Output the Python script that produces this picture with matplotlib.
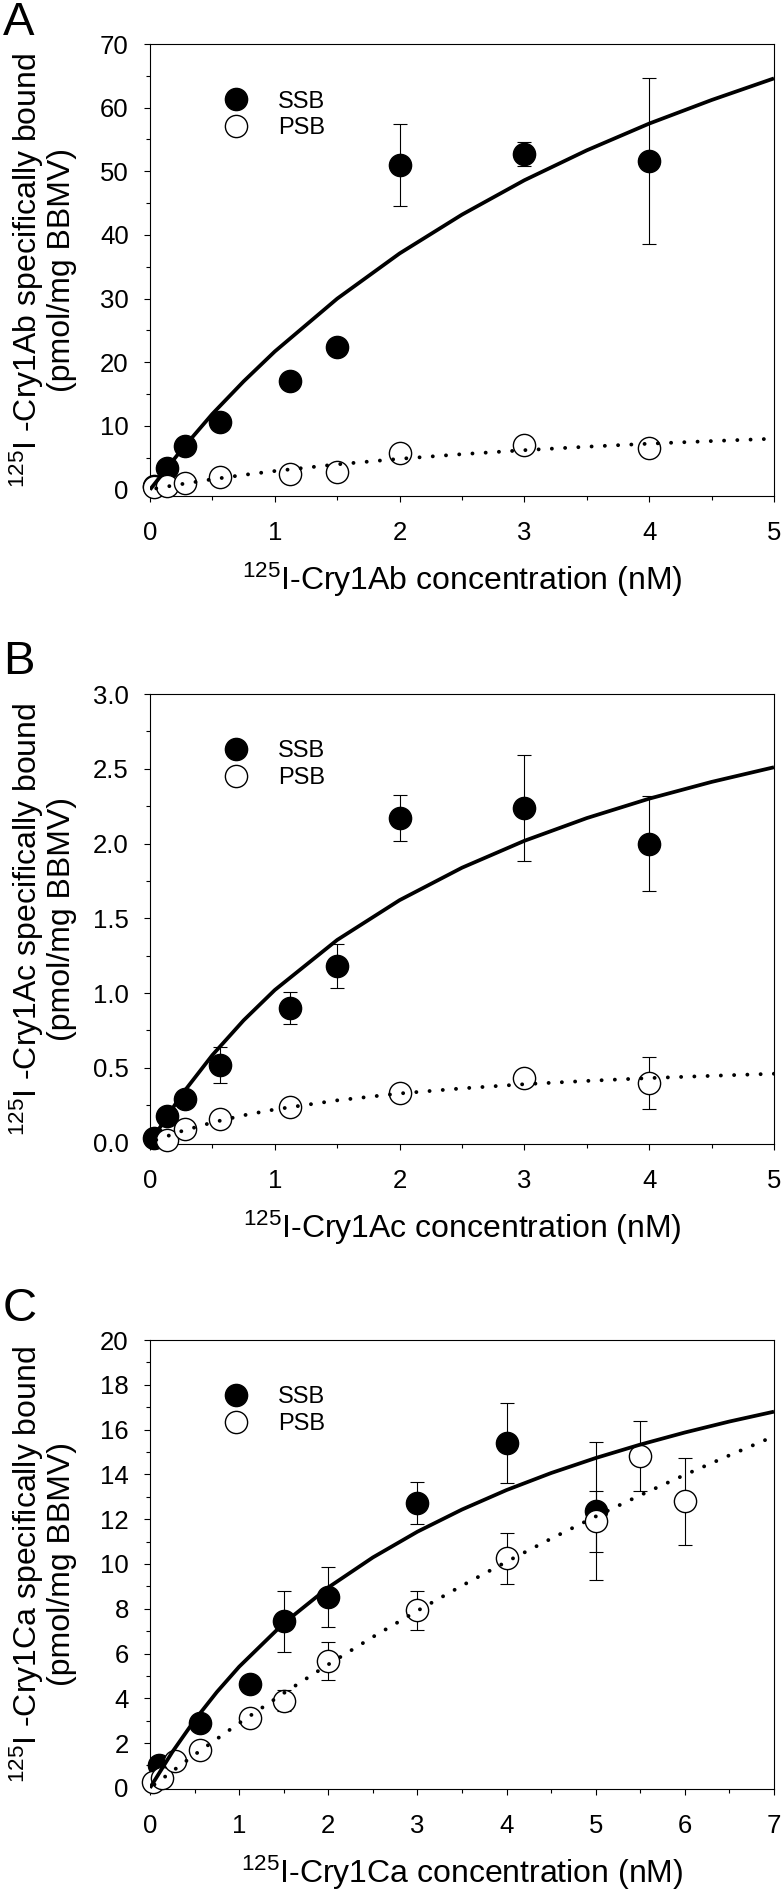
"""
Saturation binding of 125I-labelled Cry1Ab / Cry1Ac / Cry1Ca to BBMV
Three stacked panels (A, B, C): specific binding (SSB) vs. non-saturable
binding (PSB), each with its fitted curve.
"""

import matplotlib
matplotlib.use("Agg")
import matplotlib.pyplot as plt
from matplotlib.lines import Line2D
from matplotlib.ticker import MultipleLocator, FormatStrFormatter

plt.rcParams["font.family"] = ["Liberation Sans", "DejaVu Sans"]
plt.rcParams["mathtext.fontset"] = "custom"
plt.rcParams["mathtext.rm"] = "Liberation Sans"
plt.rcParams["mathtext.it"] = "Liberation Sans:italic"
plt.rcParams["mathtext.bf"] = "Liberation Sans:bold"

# ── Panel A: Cry1Ab ────────────────────────────────────────────────────────────

a_conc       = [0.03, 0.14, 0.28, 0.56, 1.12, 1.5, 2, 3, 4]
a_ssb        = [0.5, 3.4, 6.9, 10.7, 17.1, 22.4, 51.0, 52.7, 51.6]
a_ssb_err    = [0, 0, 0, 0, 1.1, 0, 6.5, 1.85, 13.0]
a_psb        = [0.4, 0.6, 1.0, 2.0, 2.5, 2.7, 5.8, 7.0, 6.5]
a_psb_err    = [0, 0, 0, 0, 0, 0, 0, 0, 0]

a_fit_x      = [0, 0.25, 0.5, 0.75, 1, 1.5, 2, 2.5, 3, 3.5, 4, 4.5, 5]
a_fit_ssb    = [0, 6.2, 11.9, 17.0, 21.7, 30.0, 37.1, 43.2, 48.6, 53.3, 57.5, 61.2, 64.6]
a_fit_psb_x  = [0.05, 0.25, 0.5, 0.75, 1, 1.5, 2, 2.5, 3, 3.5, 4, 4.5, 5]
a_fit_psb    = [0.2, 0.86, 1.63, 2.31, 2.92, 3.97, 4.84, 5.57, 6.20, 6.74, 7.22, 7.63, 8.0]

# ── Panel B: Cry1Ac ────────────────────────────────────────────────────────────

b_conc_ssb   = [0.03, 0.14, 0.28, 0.56, 1.12, 1.5, 2, 3, 4]
b_ssb        = [0.03, 0.18, 0.29, 0.52, 0.90, 1.18, 2.17, 2.24, 2.00]
b_ssb_err    = [0, 0, 0, 0.12, 0.105, 0.145, 0.155, 0.355, 0.315]
b_conc_psb   = [0.14, 0.28, 0.56, 1.12, 2, 3, 4]
b_psb        = [0.02, 0.09, 0.16, 0.24, 0.33, 0.43, 0.40]
b_psb_err    = [0, 0, 0, 0, 0, 0, 0.175]

b_fit_x      = [0, 0.25, 0.5, 0.75, 1, 1.5, 2, 2.5, 3, 3.5, 4, 4.5, 5]
b_fit_ssb    = [0, 0.316, 0.585, 0.817, 1.02, 1.355, 1.621, 1.838, 2.018, 2.170, 2.300, 2.412, 2.510]
b_fit_psb_x  = [0.05, 0.25, 0.5, 0.75, 1, 1.5, 2, 2.5, 3, 3.5, 4, 4.5, 5]
b_fit_psb    = [0.017, 0.075, 0.134, 0.182, 0.221, 0.282, 0.328, 0.362, 0.390, 0.412, 0.431, 0.446, 0.460]

# ── Panel C: Cry1Ca ────────────────────────────────────────────────────────────

c_conc_ssb   = [0.1, 0.56, 1.12, 1.5, 2, 3, 4, 5]
c_ssb        = [1.0, 2.9, 4.65, 7.43, 8.53, 12.73, 15.4, 12.38]
c_ssb_err    = [0, 0, 0, 1.375, 1.33, 0.93, 1.8, 3.08]
c_conc_psb   = [0.03, 0.14, 0.28, 0.56, 1.12, 1.5, 2, 3, 4, 5, 5.5, 6]
c_psb        = [0.25, 0.45, 1.2, 1.7, 3.1, 3.9, 5.66, 7.93, 10.25, 11.9, 14.83, 12.8]
c_psb_err    = [0, 0, 0, 0, 0, 0.47, 0.86, 0.875, 1.15, 1.35, 1.575, 1.95]

c_fit_x      = [0, 0.25, 0.5, 0.75, 1, 1.5, 2, 2.5, 3, 3.5, 4, 4.5, 5, 5.5, 6, 6.5, 7]
c_fit_ssb    = [0, 1.60, 3.02, 4.28, 5.41, 7.35, 8.95, 10.29, 11.44, 12.43, 13.30,
                14.06, 14.73, 15.33, 15.87, 16.36, 16.80]
c_fit_psb_x  = [0.05, 0.5, 1, 1.5, 2, 2.5, 3, 3.5, 4, 4.5, 5, 5.5, 6, 6.5, 7]
c_fit_psb    = [0.15, 1.48, 2.89, 4.23, 5.51, 6.74, 7.91, 9.03, 10.10, 11.13, 12.12,
                13.07, 13.98, 14.85, 15.70]

# ── Layout (pixels of a 784 x 1895 canvas) ─────────────────────────────────────

W, H     = 784, 1895
AX_LEFT  = 150
AX_RIGHT = 774
TICK_FS  = 18.5
LABEL_FS = 23
LEG_FS   = 17
MS       = 16

panels = [
    dict(letter="A", name="Cry1Ab", top=44, bottom=496, letter_y=23,
         xmax=5, ylim=(-1, 70), ymajor=10, yminor=5, yfmt="%d",
         ssb_x=a_conc, ssb=a_ssb, ssb_err=a_ssb_err,
         psb_x=a_conc, psb=a_psb, psb_err=a_psb_err,
         fit_x=a_fit_x, fit_ssb=a_fit_ssb, fit_psb_x=a_fit_psb_x, fit_psb=a_fit_psb),
    dict(letter="B", name="Cry1Ac", top=694, bottom=1144, letter_y=662,
         xmax=5, ylim=(-0.01, 3.0), ymajor=0.5, yminor=0.25, yfmt="%.1f",
         ssb_x=b_conc_ssb, ssb=b_ssb, ssb_err=b_ssb_err,
         psb_x=b_conc_psb, psb=b_psb, psb_err=b_psb_err,
         fit_x=b_fit_x, fit_ssb=b_fit_ssb, fit_psb_x=b_fit_psb_x, fit_psb=b_fit_psb),
    dict(letter="C", name="Cry1Ca", top=1340, bottom=1789, letter_y=1309,
         xmax=7, ylim=(-0.05, 20), ymajor=2, yminor=1, yfmt="%d",
         ssb_x=c_conc_ssb, ssb=c_ssb, ssb_err=c_ssb_err,
         psb_x=c_conc_psb, psb=c_psb, psb_err=c_psb_err,
         fit_x=c_fit_x, fit_ssb=c_fit_ssb, fit_psb_x=c_fit_psb_x, fit_psb=c_fit_psb),
]

fig = plt.figure(figsize=(W / 100, H / 100), dpi=100)

for p in panels:
    ax = fig.add_axes([AX_LEFT / W, 1 - p["bottom"] / H,
                       (AX_RIGHT - AX_LEFT) / W, (p["bottom"] - p["top"]) / H])

    # error bars sit behind the symbols
    for x, y, err in [(p["ssb_x"], p["ssb"], p["ssb_err"]),
                      (p["psb_x"], p["psb"], p["psb_err"])]:
        ax.errorbar(x, y, yerr=err, fmt="none", ecolor="k",
                    elinewidth=0.8, capsize=5, capthick=0.8, zorder=2)

    ax.plot(p["ssb_x"], p["ssb"], "o", ms=MS, mfc="black", mec="black", mew=1.0,
            zorder=3, clip_on=False)
    ax.plot(p["psb_x"], p["psb"], "o", ms=MS, mfc="white", mec="black", mew=1.0,
            zorder=4, clip_on=False)

    # fitted curves (solid = SSB, dotted = PSB)
    ax.plot(p["fit_x"], p["fit_ssb"], color="black", lw=2.7, zorder=5,
            solid_capstyle="butt", solid_joinstyle="round")
    ax.plot(p["fit_psb_x"], p["fit_psb"], color="black", lw=2.8, zorder=5,
            ls=(0, (0.01, 3.4)), dash_capstyle="round")

    ax.set_xlim(0, p["xmax"])
    ax.set_ylim(*p["ylim"])
    ax.xaxis.set_major_locator(MultipleLocator(1))
    ax.xaxis.set_minor_locator(MultipleLocator(0.5))
    ax.yaxis.set_major_locator(MultipleLocator(p["ymajor"]))
    ax.yaxis.set_minor_locator(MultipleLocator(p["yminor"]))
    ax.yaxis.set_major_formatter(FormatStrFormatter(p["yfmt"]))

    ax.tick_params(axis="both", which="major", direction="out", length=4.3,
                   width=0.8, labelsize=TICK_FS)
    ax.tick_params(axis="both", which="minor", direction="out", length=3.0, width=0.8)
    ax.tick_params(axis="x", which="major", pad=14)
    ax.tick_params(axis="y", which="major", pad=11)
    for s in ax.spines.values():
        s.set_linewidth(0.8)

    ax.set_xlabel(r"$^{125}$I-" + p["name"] + " concentration (nM)",
                  fontsize=LABEL_FS, labelpad=11)
    ax.set_ylabel(r"$^{125}$I -" + p["name"] + " specifically bound\n(pmol/mg BBMV)",
                  fontsize=LABEL_FS, linespacing=1.05)
    ax.yaxis.set_label_coords((77 - AX_LEFT) / (AX_RIGHT - AX_LEFT), 0.5)

    handles = [
        Line2D([], [], ls="none", marker="o", ms=MS, mfc="black", mec="black", mew=1.0),
        Line2D([], [], ls="none", marker="o", ms=MS, mfc="white", mec="black", mew=1.0),
    ]
    ax.legend(handles, ["SSB", "PSB"], loc="upper left",
              bbox_to_anchor=(74 / (AX_RIGHT - AX_LEFT), 0.897),
              frameon=False, fontsize=LEG_FS, borderpad=0, borderaxespad=0,
              handlelength=1.0, handletextpad=1.3, labelspacing=0.2)

    fig.text(3 / W, 1 - p["letter_y"] / H, p["letter"], fontsize=34,
             ha="left", va="center")

fig.savefig("out.png", dpi=100)
